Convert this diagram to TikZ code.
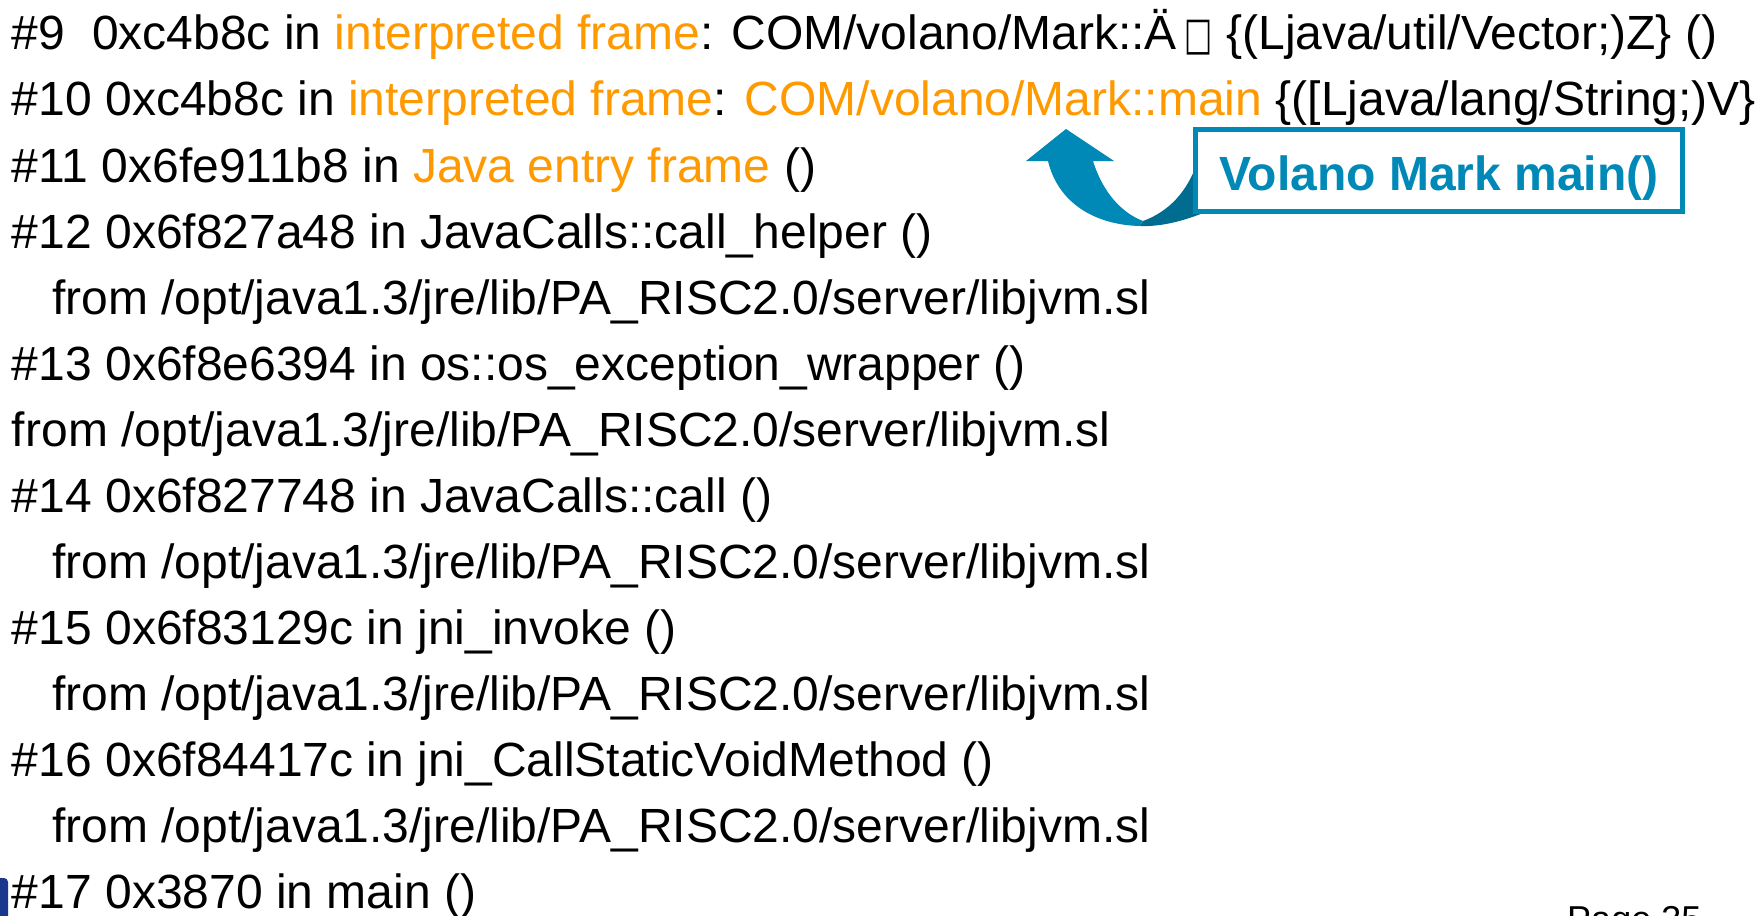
\documentclass[tikz,border=0pt]{standalone}
\usepackage{fontspec}
\setmainfont{Liberation Sans}
\newfontfamily\dejavu{DejaVu Sans}
\definecolor{orng}{RGB}{255,153,0}
\definecolor{tealc}{RGB}{0,137,182}
\definecolor{tealdark}{RGB}{0,108,143}
\definecolor{navylogo}{RGB}{25,55,140}
\tikzset{
  ln/.style={anchor=base west, inner sep=0pt, outer sep=0pt, font=\fontsize{48}{58}\selectfont},
}
\newcommand{\hlt}[1]{\textcolor{orng}{#1}}
\begin{document}
\begin{tikzpicture}[x=1pt,y=-1pt]
\useasboundingbox (0,0) rectangle (1760,915);
\clip (0,0) rectangle (1760,915);
\fill[white] (0,0) rectangle (1760,915);
% logo fragment
\fill[navylogo, rounded corners=4pt] (-20,878) rectangle (8,930);
% lines
\node[ln] (l9)  at (12,50)  {\#9\ \ 0xc4b8c in \hlt{interpreted frame}: COM/volano/Mark::Ä\,{\dejavu\scalebox{0.62}[0.95]{□}} \{(Ljava/util/Vector;)Z\} ()};
\node[ln] (l10) at (12,116) {\#10 0xc4b8c in \hlt{interpreted frame}: \hlt{COM/volano/Mark::main} \{([Ljava/lang/String;)V\}};
\node[ln] (l11) at (12,182) {\#11 0x6fe911b8 in \hlt{Java entry frame} ()};
\node[ln] (l12) at (12,248) {\#12 0x6f827a48 in JavaCalls::call\_helper ()};
\node[ln] (f12) at (52,314) {from /opt/java1.3/jre/lib/PA\_RISC2.0/server/libjvm.sl};
\node[ln] (l13) at (12,380) {\#13 0x6f8e6394 in os::os\_exception\_wrapper ()};
\node[ln] (f13) at (12,446) {from /opt/java1.3/jre/lib/PA\_RISC2.0/server/libjvm.sl};
\node[ln] (l14) at (12,512) {\#14 0x6f827748 in JavaCalls::call ()};
\node[ln] (f14) at (52,578) {from /opt/java1.3/jre/lib/PA\_RISC2.0/server/libjvm.sl};
\node[ln] (l15) at (12,644) {\#15 0x6f83129c in jni\_invoke ()};
\node[ln] (f15) at (52,710) {from /opt/java1.3/jre/lib/PA\_RISC2.0/server/libjvm.sl};
\node[ln] (l16) at (12,776) {\#16 0x6f84417c in jni\_CallStaticVoidMethod ()};
\node[ln] (f16) at (52,842) {from /opt/java1.3/jre/lib/PA\_RISC2.0/server/libjvm.sl};
\node[ln] (l17) at (12,908) {\#17 0x3870 in main ()};
\node[anchor=base west, inner sep=0pt, font=\fontsize{36}{44}\selectfont] (page) at (1567,931) {Page 35};
% curved arrow: dark back part
\fill[tealdark] (1143,221) .. controls (1168,212) and (1188,192) .. (1198,160) -- (1210,160) -- (1210,210)
  .. controls (1188,220) and (1162,227) .. (1140,226) -- cycle;
% light front part
\fill[tealc] (1026,161) -- (1066,129) -- (1114,161) -- (1093,161)
  .. controls (1103,193) and (1122,213) .. (1143,221) -- (1140,226)
  .. controls (1095,225) and (1058,203) .. (1048,161) -- cycle;
% callout box
\node[draw=tealc, line width=5pt, fill=white, minimum width=487pt, minimum height=82pt, inner sep=0pt,
  text height=45pt, text depth=6pt,
  font=\fontsize{48}{58}\selectfont\bfseries, text=tealc] (box) at (1439,170.5) {Volano Mark main()};
\end{tikzpicture}
\end{document}
